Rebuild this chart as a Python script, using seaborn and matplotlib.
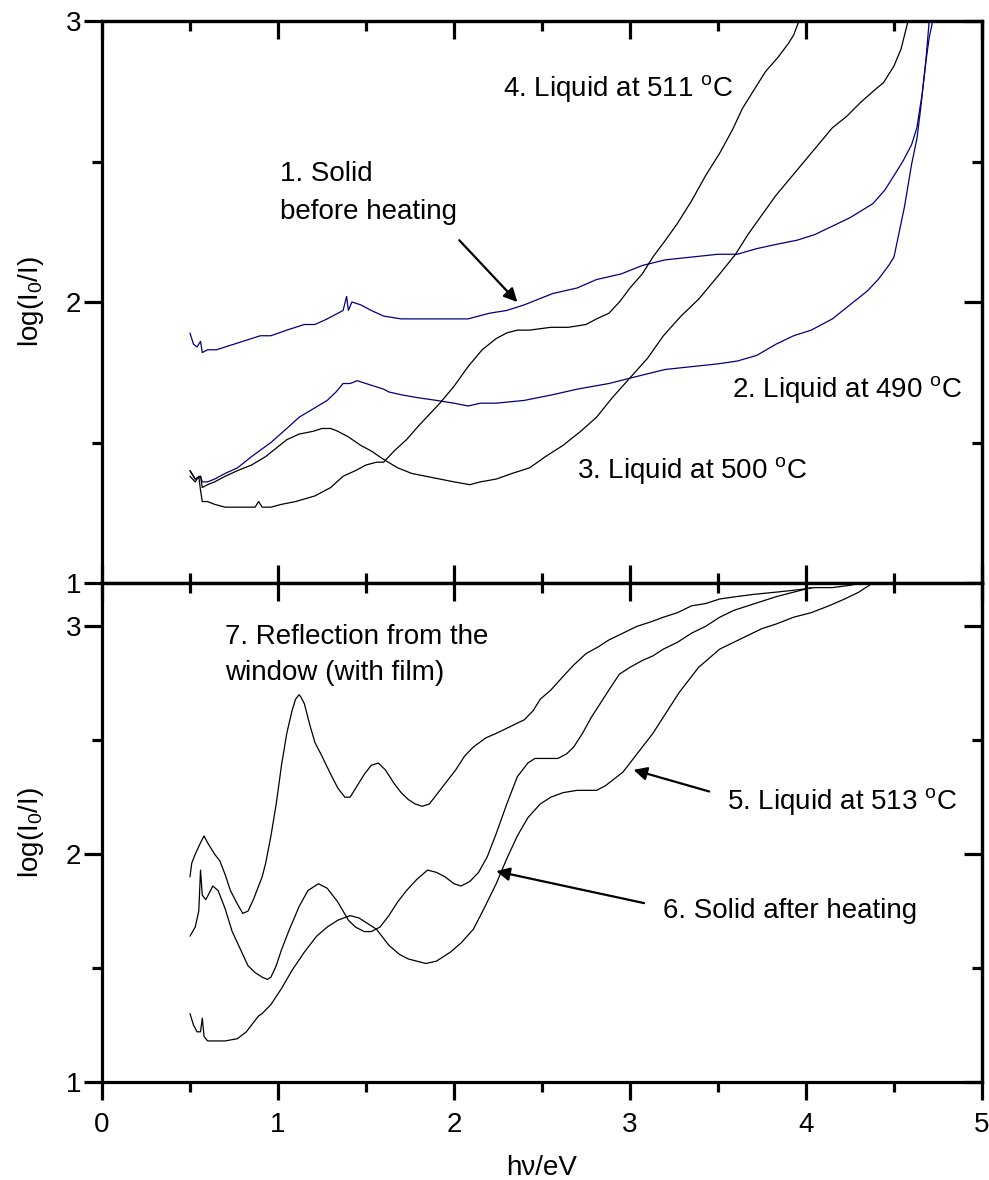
import matplotlib
matplotlib.use('Agg')
import matplotlib.pyplot as plt
import seaborn as sns
from matplotlib.ticker import MultipleLocator

# ---- top panel: spectra during heating ----
# 1. solid before heating (blue)
x1 = [0.50, 0.52, 0.54, 0.56, 0.57, 0.60, 0.65, 0.70, 0.80, 0.90, 0.96, 1.05, 1.15, 1.21,
      1.28, 1.34, 1.37, 1.39, 1.40, 1.42, 1.47, 1.53, 1.60, 1.70, 1.79, 1.90, 2.00, 2.08,
      2.20, 2.30, 2.40, 2.56, 2.70, 2.81, 2.95, 3.07, 3.20, 3.35, 3.50, 3.61, 3.72, 3.83,
      3.95, 4.05, 4.15, 4.25, 4.38, 4.45, 4.50, 4.55, 4.60, 4.63, 4.66, 4.68, 4.70]
y1 = [1.89, 1.85, 1.84, 1.86, 1.82, 1.83, 1.83, 1.84, 1.86, 1.88, 1.88, 1.90, 1.92, 1.92,
      1.94, 1.96, 1.97, 2.02, 1.97, 2.00, 1.99, 1.97, 1.95, 1.94, 1.94, 1.94, 1.94, 1.94,
      1.96, 1.97, 1.99, 2.03, 2.05, 2.08, 2.10, 2.13, 2.15, 2.16, 2.17, 2.17, 2.19, 2.205,
      2.22, 2.24, 2.27, 2.30, 2.35, 2.40, 2.45, 2.50, 2.56, 2.62, 2.74, 2.85, 3.0]

# 2. liquid at 490 C (blue)
x2 = [0.50, 0.53, 0.56, 0.57, 0.60, 0.64, 0.70, 0.77, 0.85, 0.96, 1.05, 1.12, 1.20, 1.28,
      1.33, 1.37, 1.41, 1.45, 1.50, 1.55, 1.60, 1.63, 1.70, 1.79, 1.90, 2.00, 2.08, 2.15,
      2.24, 2.40, 2.56, 2.70, 2.88, 3.07, 3.20, 3.35, 3.50, 3.61, 3.72, 3.83, 3.93, 4.03,
      4.15, 4.25, 4.35, 4.41, 4.47, 4.50, 4.53, 4.56, 4.60, 4.63, 4.65, 4.68, 4.70, 4.72]
y2 = [1.40, 1.37, 1.38, 1.36, 1.36, 1.37, 1.39, 1.41, 1.45, 1.50, 1.55, 1.59, 1.62, 1.65,
      1.68, 1.71, 1.71, 1.72, 1.71, 1.70, 1.69, 1.68, 1.67, 1.66, 1.65, 1.64, 1.63, 1.64,
      1.64, 1.65, 1.67, 1.69, 1.71, 1.74, 1.76, 1.77, 1.78, 1.79, 1.81, 1.85, 1.88, 1.90,
      1.94, 1.99, 2.04, 2.08, 2.13, 2.16, 2.25, 2.34, 2.49, 2.58, 2.68, 2.85, 2.94, 3.0]

# 3. liquid at 500 C
x3 = [0.50, 0.53, 0.56, 0.57, 0.60, 0.64, 0.70, 0.77, 0.85, 0.93, 0.99, 1.05, 1.12, 1.20,
      1.25, 1.30, 1.34, 1.40, 1.47, 1.53, 1.60, 1.68, 1.76, 1.84, 1.92, 2.00, 2.09, 2.15,
      2.24, 2.33, 2.43, 2.52, 2.62, 2.72, 2.81, 2.90, 3.00, 3.10, 3.19, 3.29, 3.39, 3.51,
      3.60, 3.67, 3.75, 3.83, 3.91, 3.99, 4.07, 4.15, 4.23, 4.31, 4.40, 4.44, 4.50, 4.54, 4.58]
y3 = [1.40, 1.37, 1.38, 1.34, 1.35, 1.36, 1.38, 1.40, 1.42, 1.45, 1.48, 1.51, 1.53, 1.54,
      1.55, 1.55, 1.54, 1.52, 1.49, 1.47, 1.44, 1.41, 1.39, 1.38, 1.37, 1.36, 1.35, 1.36,
      1.37, 1.39, 1.41, 1.45, 1.49, 1.54, 1.59, 1.66, 1.73, 1.80, 1.88, 1.95, 2.01, 2.10,
      2.17, 2.24, 2.31, 2.38, 2.44, 2.50, 2.56, 2.62, 2.66, 2.71, 2.76, 2.78, 2.84, 2.90, 3.0]

# 4. liquid at 511 C
x4 = [0.50, 0.53, 0.55, 0.56, 0.57, 0.60, 0.64, 0.70, 0.75, 0.80, 0.87, 0.89, 0.91, 0.96,
      1.02, 1.10, 1.21, 1.30, 1.37, 1.44, 1.50, 1.56, 1.60, 1.66, 1.73, 1.80, 1.92, 2.00,
      2.08, 2.16, 2.24, 2.30, 2.36, 2.43, 2.55, 2.65, 2.75, 2.81, 2.88, 2.94, 3.00, 3.07,
      3.13, 3.19, 3.27, 3.35, 3.43, 3.51, 3.58, 3.64, 3.70, 3.77, 3.84, 3.90, 3.93, 3.96]
y4 = [1.38, 1.36, 1.38, 1.33, 1.29, 1.29, 1.28, 1.27, 1.27, 1.27, 1.27, 1.29, 1.27, 1.27,
      1.28, 1.29, 1.31, 1.34, 1.38, 1.40, 1.42, 1.43, 1.43, 1.47, 1.51, 1.56, 1.64, 1.70,
      1.77, 1.83, 1.87, 1.89, 1.90, 1.90, 1.91, 1.91, 1.92, 1.94, 1.96, 2.00, 2.05, 2.10,
      2.16, 2.21, 2.28, 2.36, 2.45, 2.53, 2.61, 2.69, 2.75, 2.82, 2.87, 2.92, 2.95, 3.0]

# ---- bottom panel ----
# 5. liquid at 513 C
x5 = [0.50, 0.52, 0.54, 0.56, 0.57, 0.58, 0.60, 0.64, 0.70, 0.77, 0.82, 0.86, 0.89, 0.91,
      0.96, 1.02, 1.08, 1.15, 1.22, 1.28, 1.34, 1.41, 1.46, 1.50, 1.56, 1.63, 1.69, 1.74,
      1.79, 1.84, 1.90, 1.98, 2.04, 2.11, 2.17, 2.24, 2.30, 2.36, 2.42, 2.49, 2.55, 2.62,
      2.70, 2.76, 2.81, 2.86, 2.91, 2.96, 3.00, 3.06, 3.13, 3.18, 3.23, 3.28, 3.32, 3.39,
      3.45, 3.51, 3.59, 3.67, 3.75, 3.83, 3.93, 4.03, 4.13, 4.22, 4.30, 4.38]
y5 = [1.30, 1.25, 1.22, 1.22, 1.28, 1.20, 1.18, 1.18, 1.18, 1.19, 1.22, 1.26, 1.29, 1.30,
      1.34, 1.41, 1.49, 1.57, 1.64, 1.68, 1.71, 1.73, 1.72, 1.70, 1.67, 1.60, 1.56, 1.54,
      1.53, 1.52, 1.53, 1.57, 1.61, 1.67, 1.76, 1.87, 1.98, 2.08, 2.16, 2.22, 2.25, 2.27,
      2.28, 2.28, 2.28, 2.30, 2.33, 2.36, 2.40, 2.46, 2.53, 2.59, 2.65, 2.71, 2.75, 2.82,
      2.86, 2.90, 2.93, 2.96, 2.99, 3.01, 3.04, 3.06, 3.09, 3.12, 3.15, 3.19]

# 6. solid after heating
x6 = [0.50, 0.53, 0.55, 0.56, 0.57, 0.59, 0.61, 0.63, 0.66, 0.70, 0.74, 0.77, 0.80, 0.83,
      0.87, 0.91, 0.94, 0.96, 0.99, 1.02, 1.06, 1.12, 1.17, 1.23, 1.28, 1.34, 1.40, 1.44,
      1.49, 1.53, 1.58, 1.63, 1.68, 1.73, 1.79, 1.85, 1.90, 1.95, 2.00, 2.04, 2.09, 2.14,
      2.19, 2.24, 2.30, 2.36, 2.42, 2.46, 2.52, 2.59, 2.64, 2.68, 2.73, 2.78, 2.83, 2.88,
      2.94, 3.00, 3.07, 3.13, 3.19, 3.27, 3.35, 3.43, 3.51, 3.59, 3.67, 3.75, 3.83, 3.93, 4.03]
y6 = [1.64, 1.68, 1.75, 1.93, 1.82, 1.80, 1.83, 1.86, 1.84, 1.76, 1.66, 1.61, 1.56, 1.51,
      1.48, 1.46, 1.45, 1.46, 1.51, 1.58, 1.66, 1.77, 1.84, 1.87, 1.85, 1.79, 1.71, 1.68,
      1.66, 1.66, 1.68, 1.73, 1.79, 1.84, 1.89, 1.93, 1.92, 1.90, 1.87, 1.86, 1.88, 1.92,
      1.99, 2.09, 2.22, 2.34, 2.40, 2.42, 2.42, 2.42, 2.44, 2.47, 2.53, 2.60, 2.66, 2.72,
      2.79, 2.82, 2.85, 2.87, 2.90, 2.93, 2.97, 3.00, 3.04, 3.07, 3.09, 3.11, 3.13, 3.15, 3.17]

# 7. reflection from the window (with film)
x7 = [0.50, 0.51, 0.53, 0.56, 0.58, 0.60, 0.64, 0.67, 0.70, 0.73, 0.77, 0.80, 0.83, 0.86,
      0.89, 0.91, 0.93, 0.96, 0.99, 1.02, 1.05, 1.08, 1.10, 1.12, 1.13, 1.15, 1.18, 1.21,
      1.25, 1.30, 1.34, 1.38, 1.41, 1.45, 1.49, 1.53, 1.57, 1.61, 1.66, 1.70, 1.74, 1.78,
      1.82, 1.86, 1.92, 1.97, 2.01, 2.06, 2.11, 2.18, 2.24, 2.32, 2.40, 2.45, 2.49, 2.55,
      2.62, 2.68, 2.75, 2.82, 2.88, 2.96, 3.04, 3.12, 3.19, 3.27, 3.35, 3.43, 3.51, 3.60,
      3.70, 3.83, 3.95, 4.05, 4.15, 4.25, 4.31]
y7 = [1.90, 1.96, 2.00, 2.05, 2.08, 2.05, 2.00, 1.97, 1.91, 1.84, 1.78, 1.74, 1.75, 1.80,
      1.86, 1.90, 1.96, 2.08, 2.22, 2.39, 2.53, 2.63, 2.68, 2.70, 2.69, 2.66, 2.57, 2.49,
      2.43, 2.35, 2.29, 2.25, 2.25, 2.30, 2.35, 2.39, 2.40, 2.37, 2.31, 2.27, 2.24, 2.22,
      2.21, 2.22, 2.28, 2.33, 2.37, 2.43, 2.47, 2.51, 2.53, 2.56, 2.59, 2.63, 2.68, 2.72,
      2.78, 2.83, 2.88, 2.91, 2.94, 2.97, 3.00, 3.02, 3.04, 3.06, 3.09, 3.10, 3.12, 3.13,
      3.14, 3.15, 3.16, 3.17, 3.17, 3.18, 3.19]

NAVY = '#000080'
LW = 0.9
FS = 20

sns.set_style('ticks')
plt.rcParams['font.family'] = ['Liberation Sans', 'DejaVu Sans']
plt.rcParams['mathtext.fontset'] = 'custom'
plt.rcParams['mathtext.rm'] = 'Liberation Sans'
plt.rcParams['mathtext.it'] = 'Liberation Sans:italic'
plt.rcParams['font.size'] = FS
for key in ['text.color', 'axes.labelcolor', 'axes.edgecolor', 'xtick.color', 'ytick.color']:
    plt.rcParams[key] = 'black'

fig = plt.figure(figsize=(9.89, 11.8), dpi=100)
ax_top = fig.add_axes([0.1031, 0.5059, 0.8898, 0.4763])
ax_bot = fig.add_axes([0.1031, 0.0831, 0.8898, 0.4228])


def style_axis(ax, ylim, bottom_out):
    ax.set_xlim(0, 5)
    ax.set_ylim(*ylim)
    for s in ax.spines.values():
        s.set_linewidth(2.3)
        s.set_color('black')
    ax.xaxis.set_major_locator(MultipleLocator(1))
    ax.xaxis.set_minor_locator(MultipleLocator(0.5))
    ax.yaxis.set_major_locator(MultipleLocator(1))
    ax.yaxis.set_minor_locator(MultipleLocator(0.5))
    ax.tick_params(axis='y', which='both', direction='out', left=True, right=False,
                   labelsize=FS, width=2.3, pad=2, colors='black')
    ax.tick_params(axis='x', which='both', direction='out' if bottom_out else 'in',
                   bottom=True, top=False, labelsize=FS, width=2.3, pad=9, colors='black')
    ax.tick_params(which='major', length=13)
    ax.tick_params(which='minor', length=7)

    sy = ax.secondary_yaxis('right')
    sy.yaxis.set_major_locator(MultipleLocator(1))
    sy.yaxis.set_minor_locator(MultipleLocator(0.5))
    sy.tick_params(axis='y', which='both', direction='in', labelright=False,
                   width=2.3, colors='black')
    sy.tick_params(which='major', length=13)
    sy.tick_params(which='minor', length=7)
    sy.spines['right'].set_linewidth(2.3)
    sy.spines['right'].set_color('black')

    sx = ax.secondary_xaxis('top')
    sx.xaxis.set_major_locator(MultipleLocator(1))
    sx.xaxis.set_minor_locator(MultipleLocator(0.5))
    sx.tick_params(axis='x', which='both', direction='in', labeltop=False,
                   width=2.3, colors='black')
    sx.tick_params(which='major', length=13)
    sx.tick_params(which='minor', length=7)
    sx.spines['top'].set_linewidth(2.3)
    sx.spines['top'].set_color('black')


def arrow(ax, tail, tip):
    ax.annotate('', xy=tip, xytext=tail,
                arrowprops=dict(arrowstyle='-|>', color='k', lw=1.6,
                                mutation_scale=20, shrinkA=0, shrinkB=0))


# top panel
for xs, ys, c in [(x1, y1, NAVY), (x2, y2, NAVY), (x3, y3, 'k'), (x4, y4, 'k')]:
    sns.lineplot(x=xs, y=ys, ax=ax_top, color=c, linewidth=LW,
                 estimator=None, sort=False, legend=False)
style_axis(ax_top, (1, 3), bottom_out=False)
ax_top.tick_params(labelbottom=False)
ax_top.set_ylabel(r'log(I$_{\rm 0}$/I)', fontsize=FS, labelpad=14)

ax_top.text(2.28, 2.76, r'4. Liquid at 511 $^{\rm o}$C', fontsize=FS, va='center')
ax_top.text(1.01, 2.455, '1. Solid', fontsize=FS, va='center')
ax_top.text(1.01, 2.32, 'before heating', fontsize=FS, va='center')
ax_top.text(3.58, 1.69, r'2. Liquid at 490 $^{\rm o}$C', fontsize=FS, va='center')
ax_top.text(2.70, 1.40, r'3. Liquid at 500 $^{\rm o}$C', fontsize=FS, va='center')
arrow(ax_top, (2.03, 2.22), (2.36, 2.0))

# bottom panel
for xs, ys in [(x5, y5), (x6, y6), (x7, y7)]:
    sns.lineplot(x=xs, y=ys, ax=ax_bot, color='k', linewidth=LW,
                 estimator=None, sort=False, legend=False)
style_axis(ax_bot, (1, 3.19), bottom_out=True)
ax_bot.set_ylabel(r'log(I$_{\rm 0}$/I)', fontsize=FS, labelpad=14)
ax_bot.set_xlabel('hν/eV', fontsize=FS, labelpad=12)

ax_bot.text(0.70, 2.955, '7. Reflection from the', fontsize=FS, va='center')
ax_bot.text(0.70, 2.794, 'window (with film)', fontsize=FS, va='center')
ax_bot.text(3.55, 2.23, r'5. Liquid at 513 $^{\rm o}$C', fontsize=FS, va='center')
ax_bot.text(3.19, 1.75, '6. Solid after heating', fontsize=FS, va='center')
arrow(ax_bot, (3.45, 2.275), (3.02, 2.37))
arrow(ax_bot, (3.08, 1.785), (2.24, 1.925))

fig.savefig('out.png', dpi=100)
